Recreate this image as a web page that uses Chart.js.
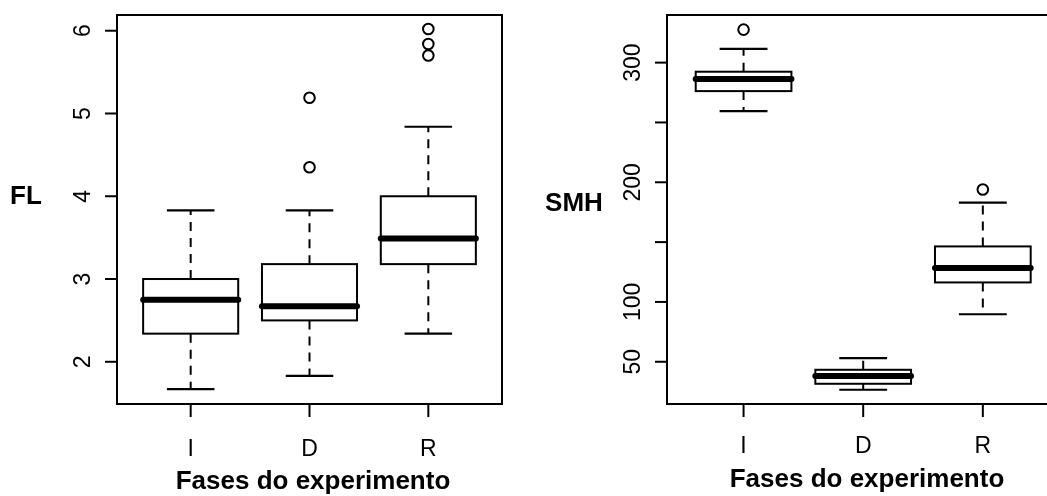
<!DOCTYPE html>
<html><head><meta charset="utf-8">
<script src="https://cdn.jsdelivr.net/npm/chart.js@4/dist/chart.umd.min.js"></script>
<style>
html,body{margin:0;padding:0;background:#fff;overflow:hidden;width:1047px;height:496px;position:relative}
#w1{position:absolute;left:0;top:0;width:530px;height:496px}
#w2{position:absolute;left:530px;top:0;width:560px;height:496px}
</style></head><body>
<div id="w1"><canvas id="c1"></canvas></div>
<div id="w2"><canvas id="c2"></canvas></div>
<script>
// ---- data ----
const categories = ['I', 'D', 'R'];
const xTitle = 'Fases do experimento';

// Panel 1: FL
const flLabel = 'FL';
const flWhiskerLow  = [1.67, 1.83, 2.34];
const flQ1          = [2.34, 2.50, 3.18];
const flMedian      = [2.75, 2.67, 3.49];
const flQ3          = [3.00, 3.18, 4.00];
const flWhiskerHigh = [3.83, 3.83, 4.84];
const flOutliers    = [[], [4.35, 5.19], [5.70, 5.84, 6.02]];
const flTicks       = [2, 3, 4, 5, 6];
const flTickLabels  = ['2', '3', '4', '5', '6'];

// Panel 2: SMH
const smhLabel = 'SMH';
const smhWhiskerLow  = [259.5, 26.6, 89.7];
const smhQ1          = [276.2, 31.6, 116.3];
const smhMedian      = [286.3, 38.2, 128.4];
const smhQ3          = [292.4, 43.3, 146.4];
const smhWhiskerHigh = [311.5, 53.1, 183.0];
const smhOutliers    = [[327.6], [], [194.0]];
const smhTicks       = [50, 100, 150, 200, 250, 300];
const smhTickLabels  = ['50', '100', '', '200', '', '300'];

const FONT = '"Liberation Sans", Arial, Helvetica, sans-serif';

function makePanel(canvasId, o) {
  const outlierPts = [];
  o.outliers.forEach((arr, i) => arr.forEach(v => outlierPts.push({x: i + 1, y: v})));

  const boxPlugin = {
    id: 'boxplot_' + canvasId,
    afterDraw(chart) {
      const ctx = chart.ctx;
      const xs = chart.scales.x, ys = chart.scales.y;
      const a = chart.chartArea;
      ctx.save();
      ctx.strokeStyle = '#000';
      ctx.fillStyle = '#000';

      // boxes
      for (let i = 0; i < categories.length; i++) {
        const cx = xs.getPixelForValue(i + 1);
        const hw = xs.getPixelForValue(i + 1 + 0.4) - cx;
        const yLo = ys.getPixelForValue(o.low[i]);
        const yQ1 = ys.getPixelForValue(o.q1[i]);
        const yMd = ys.getPixelForValue(o.med[i]);
        const yQ3 = ys.getPixelForValue(o.q3[i]);
        const yHi = ys.getPixelForValue(o.high[i]);
        // whiskers (dashed)
        ctx.lineWidth = 2;
        ctx.lineCap = 'butt';
        ctx.setLineDash([9, 7]);
        ctx.beginPath();
        ctx.moveTo(cx, yQ3); ctx.lineTo(cx, yHi);
        ctx.moveTo(cx, yQ1); ctx.lineTo(cx, yLo);
        ctx.stroke();
        ctx.setLineDash([]);
        // staples
        ctx.lineWidth = 2.2;
        ctx.beginPath();
        ctx.moveTo(cx - hw / 2, yHi); ctx.lineTo(cx + hw / 2, yHi);
        ctx.moveTo(cx - hw / 2, yLo); ctx.lineTo(cx + hw / 2, yLo);
        ctx.stroke();
        // box
        ctx.lineWidth = 2;
        ctx.fillStyle = '#fff';
        ctx.fillRect(cx - hw, yQ3, 2 * hw, yQ1 - yQ3);
        ctx.strokeRect(cx - hw, yQ3, 2 * hw, yQ1 - yQ3);
        // median
        ctx.lineWidth = 6;
        ctx.lineCap = 'round';
        ctx.beginPath();
        ctx.moveTo(cx - hw, yMd); ctx.lineTo(cx + hw, yMd);
        ctx.stroke();
        ctx.lineCap = 'butt';
      }
      ctx.fillStyle = '#000';

      // frame
      ctx.lineWidth = 2;
      ctx.strokeRect(a.left, a.top, a.right - a.left, a.bottom - a.top);

      // y ticks
      ctx.font = '23px ' + FONT;
      ctx.textAlign = 'center';
      ctx.textBaseline = 'alphabetic';
      o.ticks.forEach((v, k) => {
        const y = ys.getPixelForValue(v);
        ctx.beginPath();
        ctx.moveTo(a.left - 12, y); ctx.lineTo(a.left, y);
        ctx.stroke();
        if (o.tickLabels[k]) {
          ctx.save();
          ctx.translate(a.left - 27, y);
          ctx.rotate(-Math.PI / 2);
          ctx.fillText(o.tickLabels[k], 0, 0);
          ctx.restore();
        }
      });
      // x ticks
      categories.forEach((c, i) => {
        const x = xs.getPixelForValue(i + 1);
        ctx.beginPath();
        ctx.moveTo(x, a.bottom); ctx.lineTo(x, a.bottom + 13);
        ctx.stroke();
        ctx.fillText(c, x, a.bottom + o.xLabDy);
      });
      // titles
      ctx.font = 'bold 26px ' + FONT;
      ctx.fillText(xTitle, o.xTitleX, o.xTitleY);
      ctx.textBaseline = 'middle';
      ctx.fillText(o.yLabel, o.yLabelX, o.yLabelY);
      ctx.restore();
    }
  };

  return new Chart(document.getElementById(canvasId), {
    type: 'scatter',
    data: {
      datasets: [{
        data: outlierPts,
        pointStyle: 'circle',
        pointRadius: 5.3,
        pointHoverRadius: 5.3,
        borderWidth: 2,
        borderColor: '#000',
        backgroundColor: 'rgba(0,0,0,0)'
      }]
    },
    options: {
      responsive: true,
      maintainAspectRatio: false,
      animation: false,
      events: [],
      layout: {padding: o.padding},
      plugins: {legend: {display: false}, tooltip: {enabled: false}},
      scales: {
        x: {type: 'linear', display: false, min: o.xmin, max: o.xmax},
        y: {type: 'linear', display: false, min: o.ymin, max: o.ymax}
      }
    },
    plugins: [boxPlugin]
  });
}

makePanel('c1', {
  low: flWhiskerLow, q1: flQ1, med: flMedian, q3: flQ3, high: flWhiskerHigh,
  outliers: flOutliers, ticks: flTicks, tickLabels: flTickLabels,
  yLabel: flLabel, yLabelX: 26, yLabelY: 197,
  xTitleX: 313, xTitleY: 489, xLabDy: 52,
  padding: {left: 117, top: 15, right: 28, bottom: 92},
  xmin: 0.38, xmax: 3.62, ymin: 1.49, ymax: 6.19
});

makePanel('c2', {
  low: smhWhiskerLow, q1: smhQ1, med: smhMedian, q3: smhQ3, high: smhWhiskerHigh,
  outliers: smhOutliers, ticks: smhTicks, tickLabels: smhTickLabels,
  yLabel: smhLabel, yLabelX: 44, yLabelY: 204,
  xTitleX: 337, xTitleY: 487, xLabDy: 49,
  padding: {left: 137, top: 15, right: 33, bottom: 92},
  xmin: 0.36, xmax: 3.62, ymin: 14.7, ymax: 339.8
});
</script>
</body></html>
